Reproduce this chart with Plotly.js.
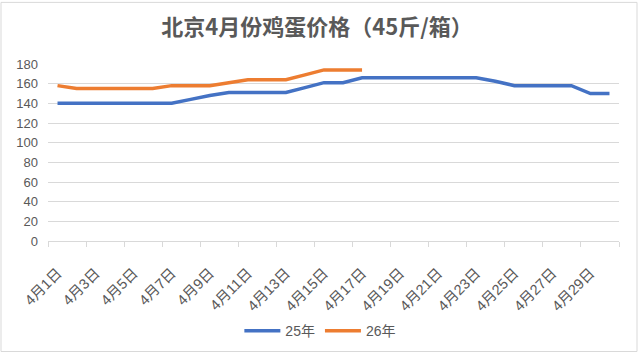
<!DOCTYPE html>
<html><head><meta charset="utf-8">
<script src="https://cdn.plot.ly/plotly-3.0.1.min.js"></script>
<style>html,body{margin:0;padding:0;background:#fff}#c{width:638px;height:359px}</style>
</head><body><div id="c"></div>
<script>
const days = Array.from({length:30},(_,i)=>i+1);
const dayLabels = days.map(d=>'4月'+d+'日');
const price25 = [140,140,140,140,140,140,140,144,148,151,151,151,151,156,161,161,166,166,166,166,166,166,166,162.5,158,158,158,158,150,150];
const price26 = [158,155,155,155,155,155,158,158,158,161,164,164,164,169,174,174,174];
const seriesNames = ['25年','26年'];

const font = 'Liberation Sans, Noto Sans CJK SC, sans-serif';
const labelIdx = days.filter(d=>d%2===1);
const traces = [
  {x: days, y: price25, name: seriesNames[0], type:'scatter', mode:'lines', line:{color:'#4472C4', width:3.5}},
  {x: days.slice(0, price26.length), y: price26, name: seriesNames[1], type:'scatter', mode:'lines', line:{color:'#ED7D31', width:3.5}},
  {x:[days[0]], y:[null], xaxis:'x2', showlegend:false, hoverinfo:'skip'}
];
const bounds = [];
for (let b=0.5; b<=30.5; b+=2) bounds.push(b);
const layout = {
  width:638, height:359,
  margin:{l:48, r:19, t:64, b:114},
  paper_bgcolor:'#fff', plot_bgcolor:'#fff',
  title:{text:'<b>北京4月份鸡蛋价格（45斤/箱）</b>', x:0.497, xanchor:'center', y:0.925, yanchor:'middle',
    font:{family:'Noto Sans CJK SC, sans-serif', size:22, color:'#595959'}},
  xaxis:{range:[0.5,30.5], tickmode:'array', tickvals:labelIdx, ticktext:labelIdx.map(d=>dayLabels[d-1]),
    tickangle:-45, ticks:'', showgrid:false, zeroline:false, showline:true, linecolor:'#D9D9D9', linewidth:1,
    tickfont:{family:font, size:14.5, color:'#595959'}, ticklabelstandoff:17, automargin:false, fixedrange:true},
  xaxis2:{overlaying:'x', matches:'x', range:[0.5,30.5], tickmode:'array', tickvals:bounds, ticktext:bounds.map(()=>''),
    ticks:'outside', ticklen:5, tickcolor:'#D9D9D9', showgrid:false, zeroline:false, showline:false, side:'bottom', automargin:false},
  yaxis:{range:[0,180], dtick:20, showgrid:true, gridcolor:'#D9D9D9', gridwidth:1, zeroline:false, showline:false,
    ticks:'', tickfont:{family:font, size:13, color:'#595959'}, ticklabelstandoff:9, automargin:false},
  legend:{orientation:'h', x:0.477, xanchor:'center', y:-0.51, yanchor:'middle', font:{family:font, size:14, color:'#595959'},
    itemwidth:36, traceorder:'normal'},
  shapes:[{type:'rect', xref:'paper', yref:'paper', x0:-47/571, x1:1+18/571, y0:-113/181, y1:1+63/181,
    line:{color:'#D9D9D9', width:1}, fillcolor:'rgba(0,0,0,0)'}],
  showlegend:true
};
Plotly.newPlot('c', traces, layout, {displayModeBar:false, staticPlot:true});
</script></body></html>
